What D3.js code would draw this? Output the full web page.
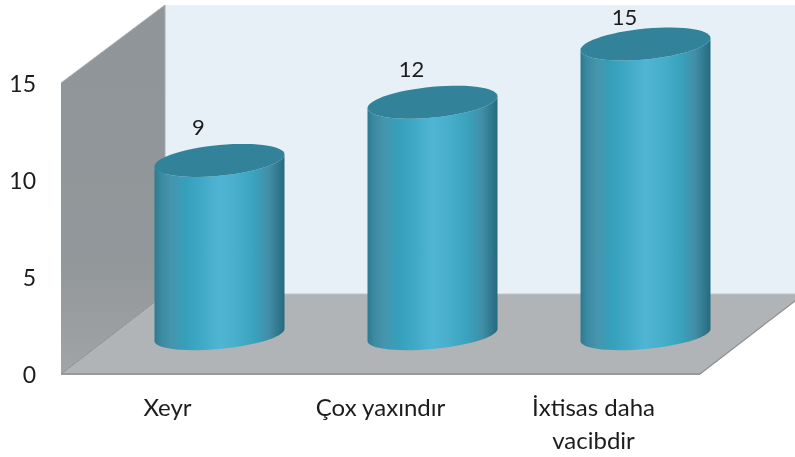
<!DOCTYPE html>
<html><head><meta charset="utf-8">
<script src="https://cdn.jsdelivr.net/npm/d3@7"></script>
<style>html,body{margin:0;padding:0;background:#fff;overflow:hidden}svg{display:block}text{font-family:Lato,"Open Sans",sans-serif;fill:#1c1c1c}</style>
</head><body><svg id="c" width="795" height="457"></svg>
<script>
const categories = ["Xeyr", "Çox yaxındır", "İxtisas daha vacibdir"];
const labelLines = [["Xeyr"], ["Çox yaxındır"], ["İxtisas daha", "vacibdir"]];
const values = [9, 12, 15];
const yTicks = [0, 5, 10, 15];

const W = 795, H = 457;
const depthX = 104, depthY = 80;
const left = 61, right = 700, base = 374, top15 = 83;
const svg = d3.select("#c");
const x = d3.scaleBand().domain(categories).range([left, right]).padding(0);
const y = d3.scaleLinear().domain([0, 15]).range([base, top15]);

const defs = svg.append("defs");
const blur = defs.append("filter").attr("id", "soft").attr("x", "-5%").attr("y", "-5%").attr("width", "110%").attr("height", "110%");
blur.append("feGaussianBlur").attr("stdDeviation", 0.45);
const g1 = defs.append("linearGradient").attr("id", "cyl");
[[0, "#2c7a90"], [0.05, "#3b8aa2"], [0.13, "#4595ad"], [0.24, "#35a0bb"], [0.36, "#3fa9c6"], [0.5, "#50b5d4"], [0.65, "#45adc9"], [0.77, "#39a2bd"], [0.88, "#428ea7"], [1, "#256a7e"]]
  .forEach(([o, c]) => g1.append("stop").attr("offset", o).attr("stop-color", c));
const g2 = defs.append("linearGradient").attr("id", "wall").attr("x1", 0).attr("y1", 0).attr("x2", 0).attr("y2", 1);
[[0, "#8f9599"], [0.7, "#92979a"], [1, "#a2a4a6"]].forEach(([o, c]) => g2.append("stop").attr("offset", o).attr("stop-color", c));

const root = svg.append("g").attr("filter", "url(#soft)");
const poly = d => d3.line()(d);
const b0 = y(0), b15 = y(15);

// back wall
root.append("path").attr("d", poly([[left + depthX, b15 - depthY + 2], [W, b15 - depthY + 2], [W, b0 - depthY], [left + depthX, b0 - depthY]])).attr("fill", "#e8f0f7");
// left wall
root.append("path").attr("d", poly([[left, b15], [left + depthX, b15 - depthY + 2], [left + depthX, b0 - depthY], [left, b0]])).attr("fill", "url(#wall)").attr("stroke", "#a9abad").attr("stroke-width", 1);
// floor (clipped by the page's right edge)
root.append("path").attr("d", poly([[left, b0], [left + depthX, b0 - depthY], [right + depthX, b0 - depthY], [right, b0]])).attr("fill", "#b0b4b7");
root.append("path").attr("d", poly([[left, b0], [left + depthX, b0 - depthY]])).attr("stroke", "#8d9093").attr("stroke-width", 1).attr("fill", "none");
root.append("path").attr("d", poly([[left + depthX, b0 - depthY], [right + depthX, b0 - depthY]])).attr("stroke", "#c0c4c8").attr("stroke-width", 1).attr("fill", "none");
root.append("path").attr("d", poly([[right, b0], [right + depthX, b0 - depthY]])).attr("stroke", "#8d9093").attr("stroke-width", 1.2).attr("fill", "none");
root.append("path").attr("d", poly([[left, b0], [right, b0]])).attr("stroke", "#97999b").attr("stroke-width", 2).attr("fill", "none");

// cylinders
const rx = 65, skew = 6, ryTop = 15.4, ryBase = 14, lift = 39, shiftX = 52, labelGap = 34, labelMinY = 16;
const angles = d3.range(0, 361, 6).map(a => a * Math.PI / 180);
const rim = (cx, cy, ry, as) => as.map(t => [cx - rx * Math.cos(t), cy + skew * Math.cos(t) + ry * Math.sin(t)]);
const textLayer = svg.append("g").attr("filter", "url(#soft)");
const cols = root.selectAll("g.col").data(categories.map((c, i) => ({ c, v: values[i] }))).join("g").attr("class", "col");
cols.each(function (d) {
  const g = d3.select(this);
  const cx = x(d.c) + x.bandwidth() / 2 + shiftX;
  const yb = y(0) - lift, yt = y(d.v) - lift;
  const lower = rim(cx, yb, ryBase, angles.filter(a => a <= Math.PI + 1e-6));
  const upper = rim(cx, yt, ryTop, angles.filter(a => a <= Math.PI + 1e-6)).reverse();
  g.append("path").attr("d", d3.line()(lower.concat(upper)) + "Z").attr("fill", "url(#cyl)");
  g.append("path").attr("d", d3.line()(rim(cx, yt, ryTop, angles)) + "Z").attr("fill", "#31839a");
  textLayer.append("text").attr("x", cx - 21).attr("y", Math.max(labelMinY, yt - labelGap)).attr("text-anchor", "middle").attr("dominant-baseline", "central").attr("font-size", 22).text(d.v);
});

// axes
const ya = textLayer.append("g").attr("transform", "translate(36,1.5)").call(d3.axisLeft(y).tickValues(yTicks).tickSize(0).tickPadding(0));
ya.select(".domain").remove();
ya.selectAll("text").attr("font-size", 23).style("font-family", "Lato").attr("fill", "#1c1c1c");

const xa = textLayer.append("g").attr("transform", `translate(0,${base})`).call(d3.axisBottom(x).tickSize(0).tickFormat(""));
xa.select(".domain").remove();
xa.selectAll(".tick").each(function (d, i) {
  const t = d3.select(this).select("text").text(null).attr("y", 0).attr("dy", null).attr("font-size", 24).style("font-family", "Lato").attr("fill", "#1c1c1c");
  labelLines[i].forEach((l, k) => t.append("tspan").attr("x", 0).attr("y", 42 + k * 33).text(l));
});
</script></body></html>
